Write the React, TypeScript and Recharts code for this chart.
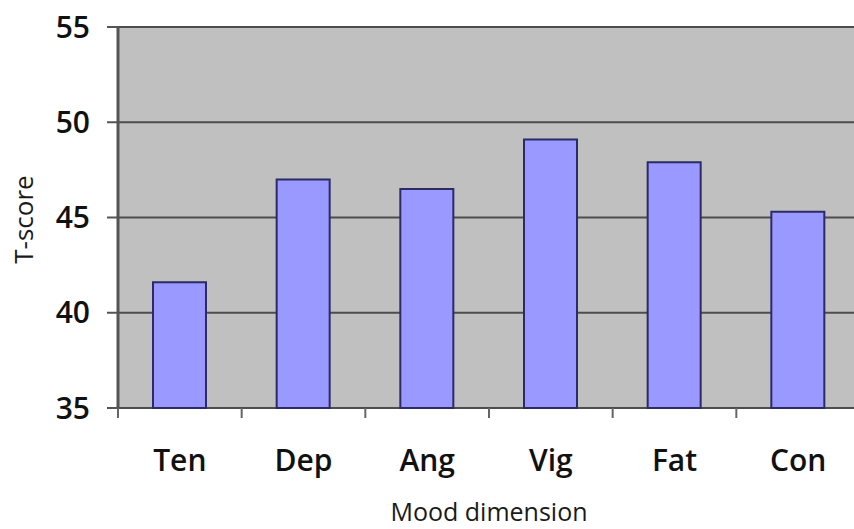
import { BarChart, Bar, XAxis, YAxis, CartesianGrid } from "recharts";

const dimensions = ["Ten", "Dep", "Ang", "Vig", "Fat", "Con"];
const scores = [41.6, 47.0, 46.5, 49.1, 47.9, 45.3];
const yTicks = [35, 40, 45, 50, 55];
const edgeTicks = [0, 1, 2, 3, 4, 5, 6];

const data = dimensions.map((dim, i) => ({ dim, score: scores[i] }));

const FONT = "'Open Sans', 'DejaVu Sans', sans-serif";

const XTitle = (props: any) => {
  const vb = props.viewBox;
  if (!vb) return null;
  return (
    <text
      x={vb.x + vb.width / 2}
      y={vb.y + vb.height - 8}
      textAnchor="middle"
      fontFamily={FONT}
      fontSize={25}
      fill="#1a1a1a"
    >
      Mood dimension
    </text>
  );
};

const YTitle = (props: any) => {
  const vb = props.viewBox;
  if (!vb) return null;
  const cx = 33;
  const cy = vb.y + vb.height / 2 + 2;
  return (
    <text
      x={cx}
      y={cy}
      transform={`rotate(-90, ${cx}, ${cy})`}
      textAnchor="middle"
      fontFamily={FONT}
      fontSize={26}
      fill="#1a1a1a"
    >
      T-score
    </text>
  );
};

export default function App() {
  return (
    <div
      style={{
        position: "absolute",
        left: 0,
        top: 0,
        width: 854,
        height: 529,
        overflow: "hidden",
        background: "#fff",
      }}
    >
      <BarChart
        width={870}
        height={529}
        data={data}
        margin={{ top: 27, right: 10, bottom: 0, left: 0 }}
      >
        <CartesianGrid
          xAxisId="b"
          vertical={false}
          stroke="#4d4d4d"
          strokeWidth={2}
          fill="#c0c0c0"
        />
        <XAxis
          xAxisId="a"
          type="number"
          dataKey="score"
          domain={[0, 6]}
          allowDataOverflow
          ticks={edgeTicks}
          interval={0}
          tickFormatter={() => ""}
          axisLine={false}
          tickLine={{ stroke: "#666", strokeWidth: 2 }}
          tickSize={10}
          height={1}
        />
        <XAxis
          xAxisId="b"
          dataKey="dim"
          axisLine={false}
          tickLine={false}
          tickSize={0}
          tickMargin={41}
          height={120}
          tick={{ fontFamily: FONT, fontSize: 30, fontWeight: 600, fill: "#111" }}
          label={<XTitle />}
        />
        <YAxis
          width={118}
          domain={[35, 55]}
          ticks={yTicks}
          interval={0}
          axisLine={{ stroke: "#555", strokeWidth: 3 }}
          tickLine={{ stroke: "#555", strokeWidth: 2 }}
          tickSize={11}
          tickMargin={17}
          tick={{ fontFamily: FONT, fontSize: 30, fontWeight: 600, fill: "#111" }}
          label={<YTitle />}
        />
        <Bar
          xAxisId="b"
          dataKey="score"
          barSize={53}
          fill="#9999ff"
          stroke="#2b2b66"
          strokeWidth={2}
          isAnimationActive={false}
        />
      </BarChart>
    </div>
  );
}
